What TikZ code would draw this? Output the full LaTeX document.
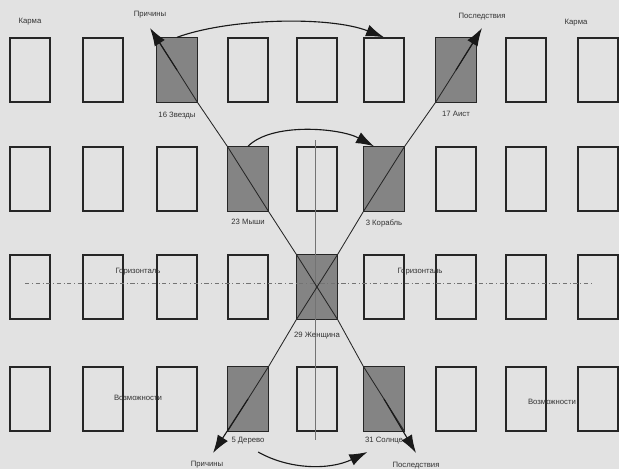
\documentclass[tikz,border=0pt]{standalone}
\usepackage{fontspec}
\setmainfont{Liberation Sans}
\usetikzlibrary{arrows.meta,positioning}
\definecolor{paper}{RGB}{226,226,226}
\definecolor{shade}{RGB}{132,132,132}

\begin{document}
\begin{tikzpicture}[
      x=0.025cm,y=-0.025cm,
      card/.style={draw=black!85,line width=1pt,minimum width=1cm,
                   minimum height=1.6cm,inner sep=0pt},
      lit/.style={draw=black!85,line width=1pt,fill=shade},
      lbl/.style={font=\fontsize{5.5}{6}\selectfont,text=black!80,inner sep=1pt},
      arr/.style={-{Latex[length=4.5mm,width=3mm]},line width=0.8pt,black!90},
      diag/.style={line width=0.6pt,black!85},
      axis/.style={black!55,line width=0.5pt},
    ]
    \fill[paper] (0,0) rectangle (619,469);
    \useasboundingbox (0,0) rectangle (619,469);

    % card grid
    \foreach \col/\xx in {1/30,2/103,3/177,4/248,5/317,6/384,7/456,8/526,9/598}
      \foreach \row/\yy in {1/70,2/179,3/287,4/399}
        \node[card] (c\col r\row) at (\xx,\yy) {};

    % cards that were drawn
    \foreach \k in {c3r1,c7r1,c4r2,c6r2,c5r3,c4r4,c6r4}
      \draw[lit] (\k.north west) rectangle (\k.south east);

    % axes
    \coordinate (hl) at (25,283);
    \coordinate (hr) at (592,283);
    \draw[axis,dash dot] (hl) -- (hr);
    \coordinate (vt) at (315,140);
    \coordinate (vb) at (315,440);
    \draw[axis] (vt) -- (vb);

    % diagonals
    \draw[diag] (c3r1.north west) -- (c3r1.south east) -- (c4r2.north west)
          -- (c4r2.south east) -- (c5r3.north west) -- (c5r3.south east)
          -- (c6r4.north west) -- (c6r4.south east);
    \draw[diag] (c4r4.south west) -- (c4r4.north east) -- (c5r3.south west)
          -- (c5r3.north east) -- (c6r2.south west) -- (c6r2.north east)
          -- (c7r1.south west) -- (c7r1.north east);

    \coordinate (tipA) at (150,28);
    \coordinate (tipB) at (416,453);
    \coordinate (tipC) at (213,453);
    \coordinate (tipD) at (482,28);
    \draw[arr] (c3r1.center) -- (tipA);
    \draw[arr] (c6r4.center) -- (tipB);
    \draw[arr] (c4r4.center) -- (tipC);
    \draw[arr] (c7r1.center) -- (tipD);

    % card names
    \node[lbl,below=2mm of c3r1] (stars) {16 Звезды};
    \node[lbl,below=1.75mm of c7r1] (stork) {17 Аист};
    \node[lbl,below=1.5mm of c4r2] (mice) {23 Мыши};
    \node[lbl,below=1.5mm of c6r2] (ship) {3 Корабль};
    \node[lbl,below=2.75mm of c5r3] (lady) {29 Женщина};
    \node[lbl,below=1mm of c4r4] (tree) {5 Дерево};
    \node[lbl,below=1mm of c6r4] (sun) {31 Солнце};

    % curved arrows
    \draw[arr] (c3r1.north) .. controls (230,18) and (330,16) .. (c6r1.north);
    \draw[arr] (c4r2.north) .. controls (272,122) and (340,128)
          .. ([xshift=-2.5mm]c6r2.north);
    \draw[arr] ([xshift=-2mm,yshift=-1.5mm]tree.south east)
          .. controls (290,470) and (330,470) .. ([xshift=1mm,yshift=-1.5mm]sun.south west);

    % other labels
    \node[lbl] (karmaL) at (30,22) {Карма};
    \node[lbl] (karmaR) at (576,23) {Карма};
    \node[lbl,above=2mm of tipA] (causeT) {Причины};
    \node[lbl,above=1.5mm of tipD] (effectT) {Последствия};
    \node[lbl] (causeB) at (207,465) {Причины};
    \node[lbl,below=1.75mm of tipB] (effectB) {Последствия};
    \node[lbl] (horL) at (138,272) {Горизонталь};
    \node[lbl] (horR) at (420,272) {Горизонталь};
    \node[lbl] (chanceL) at (138,398) {Возможности};
    \node[lbl] (chanceR) at (552,402) {Возможности};
  \end{tikzpicture}
\end{document}
